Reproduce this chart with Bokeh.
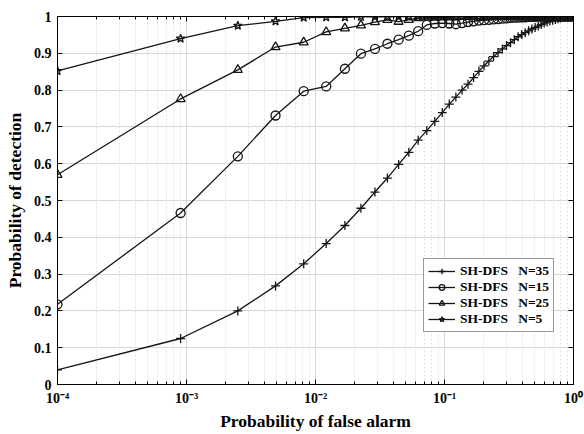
from bokeh.plotting import figure
from bokeh.models import (LogAxis, LinearAxis, Legend, LegendItem, CustomJSTickFormatter,
                          FixedTicker, LogTicker, Range1d)
from bokeh.embed import file_html
from bokeh.resources import INLINE

# Probability of false alarm (x)
pfa = [0.0001, 0.0009, 0.0025, 0.0049, 0.0081, 0.0121, 0.0169, 0.0225, 0.0289, 0.0361,
       0.0441, 0.0529, 0.0625, 0.0729, 0.0841, 0.0961, 0.1089, 0.1225, 0.1369, 0.1521,
       0.1681, 0.1849, 0.2025, 0.2209, 0.2401, 0.2601, 0.2809, 0.3025, 0.3249, 0.3481,
       0.3721, 0.3969, 0.4225, 0.4489, 0.4761, 0.5041, 0.5329, 0.5625, 0.5929, 0.6241,
       0.6561, 0.6889, 0.7225, 0.7569, 0.7921, 0.8281, 0.8649, 0.9025, 0.9409, 0.9801]

# Probability of detection (y) per series
pd_n35 = [0.040, 0.125, 0.200, 0.268, 0.328, 0.383, 0.432, 0.479, 0.523, 0.561,
          0.598, 0.631, 0.664, 0.690, 0.715, 0.739, 0.762, 0.781, 0.800, 0.816,
          0.834, 0.851, 0.866, 0.879, 0.891, 0.902, 0.912, 0.921, 0.929, 0.937,
          0.945, 0.951, 0.956, 0.961, 0.966, 0.970, 0.974, 0.978, 0.982, 0.985,
          0.988, 0.990, 0.992, 0.994, 0.996, 0.997, 0.998, 0.999, 1.000, 1.000]
pd_n15 = [0.218, 0.466, 0.620, 0.731, 0.797, 0.810, 0.858, 0.899, 0.912, 0.926,
          0.937, 0.948, 0.960, 0.977, 0.981, 0.982, 0.981, 0.979, 0.982, 0.985,
          0.987, 0.989, 0.990, 0.991, 0.992, 0.993, 0.994, 0.995, 0.996, 0.997,
          0.997, 0.998, 0.998, 0.999, 0.999, 0.999, 1.000, 1.000, 1.000, 1.000,
          1.000, 1.000, 1.000, 1.000, 1.000, 1.000, 1.000, 1.000, 1.000, 1.000]
pd_n25 = [0.570, 0.776, 0.855, 0.917, 0.930, 0.958, 0.968, 0.976, 0.985, 0.991,
          0.986, 0.991, 0.996, 0.997, 0.997, 0.998, 0.998, 0.999, 0.999, 0.999,
          1.000, 1.000, 1.000, 1.000, 1.000, 1.000, 1.000, 1.000, 1.000, 1.000,
          1.000, 1.000, 1.000, 1.000, 1.000, 1.000, 1.000, 1.000, 1.000, 1.000,
          1.000, 1.000, 1.000, 1.000, 1.000, 1.000, 1.000, 1.000, 1.000, 1.000]
pd_n5 = [0.852, 0.940, 0.975, 0.987, 0.997, 0.998, 0.998, 0.999, 0.999, 0.999,
         1.000, 1.000, 1.000, 1.000, 1.000, 1.000, 1.000, 1.000, 1.000, 1.000,
         1.000, 1.000, 1.000, 1.000, 1.000, 1.000, 1.000, 1.000, 1.000, 1.000,
         1.000, 1.000, 1.000, 1.000, 1.000, 1.000, 1.000, 1.000, 1.000, 1.000,
         1.000, 1.000, 1.000, 1.000, 1.000, 1.000, 1.000, 1.000, 1.000, 1.000]

series_labels = ["SH-DFS\u00a0\u00a0\u00a0N=35", "SH-DFS\u00a0\u00a0\u00a0N=15",
                 "SH-DFS\u00a0\u00a0\u00a0N=25", "SH-DFS\u00a0\u00a0\u00a0N=5"]
series_values = [pd_n35, pd_n15, pd_n25, pd_n5]
series_markers = ["cross", "circle", "triangle", "star"]
series_sizes = [9, 9, 9, 9]

y_ticks = [0, 0.1, 0.2, 0.3, 0.4, 0.5, 0.6, 0.7, 0.8, 0.9, 1.0]

FONT = "Liberation Serif"
LINE = "#151515"

p = figure(width=584, height=434, x_axis_type="log",
           x_range=Range1d(1e-4, 1), y_range=Range1d(0, 1),
           output_backend="svg", toolbar_location=None,
           min_border_left=57, min_border_right=11, min_border_top=16, min_border_bottom=50,
           background_fill_color="white", border_fill_color="white")

p.outline_line_color = "black"
p.outline_line_width = 1

xfmt = CustomJSTickFormatter(code="""
const e = Math.round(Math.log10(tick));
const m = {'-':'\u207b','0':'\u2070','1':'\u00b9','2':'\u00b2','3':'\u00b3','4':'\u2074',
           '5':'\u2075','6':'\u2076','7':'\u2077','8':'\u2078','9':'\u2079'};
return '10' + String(e).split('').map(c => m[c]).join('');
""")
yfmt = CustomJSTickFormatter(code="return String(Math.round(tick*10)/10);")

p.xaxis.ticker = LogTicker(num_minor_ticks=10)
p.xaxis.formatter = xfmt
p.yaxis.ticker = FixedTicker(ticks=y_ticks, minor_ticks=[])
p.yaxis.formatter = yfmt

for ax in [p.xaxis[0], p.yaxis[0]]:
    ax.axis_line_color = "black"
    ax.major_tick_in = 5
    ax.major_tick_out = 0
    ax.minor_tick_in = 3
    ax.minor_tick_out = 0
    ax.major_tick_line_color = "black"
    ax.minor_tick_line_color = "black"
    ax.major_label_text_font = FONT
    ax.major_label_text_font_style = "bold"
    ax.major_label_text_font_size = "14px"
    ax.major_label_text_color = "black"
    ax.axis_label_text_font = FONT
    ax.axis_label_text_font_style = "bold"
    ax.axis_label_text_font_size = "17.5px"
    ax.axis_label_text_color = "black"

p.xaxis.axis_label = "Probability of false alarm"
p.yaxis.axis_label = "Probability of detection"
p.xaxis.major_label_standoff = 6
p.xaxis.axis_label_standoff = 2
p.yaxis.major_label_standoff = 6
p.yaxis.axis_label_standoff = 6

# box axes (ticks only, no labels)
top = LogAxis(ticker=LogTicker(num_minor_ticks=10), formatter=xfmt,
              major_label_text_font_size="1px", major_label_text_alpha=0,
              major_label_standoff=0, major_tick_in=5, major_tick_out=0,
              minor_tick_in=3, minor_tick_out=0, axis_line_color="black")
right = LinearAxis(ticker=FixedTicker(ticks=y_ticks, minor_ticks=[]), formatter=yfmt,
                   major_label_text_font_size="1px", major_label_text_alpha=0,
                   major_label_standoff=0,
                   major_tick_in=5, major_tick_out=0, minor_tick_in=0, minor_tick_out=0,
                   axis_line_color="black")
p.add_layout(top, "above")
p.add_layout(right, "right")

p.xgrid.grid_line_color = "#d8d8d8"
p.xgrid.minor_grid_line_color = "#e2e2e2"
p.xgrid.minor_grid_line_dash = "2 2"
p.ygrid.grid_line_color = "#d8d8d8"
p.ygrid.minor_grid_line_color = None

items = []
for lab, vals, mk, sz in zip(series_labels, series_values, series_markers, series_sizes):
    lr = p.line(pfa, vals, line_color=LINE, line_width=1.3)
    sr = p.scatter(pfa, vals, marker=mk, size=sz, line_color=LINE, fill_color=None,
                   line_width=1.3)
    items.append(LegendItem(label=lab, renderers=[lr, sr]))

legend = Legend(items=items, location=(366, 52))
legend.border_line_color = "#333333"
legend.border_line_width = 1
legend.background_fill_color = "white"
legend.background_fill_alpha = 1
legend.label_text_font = FONT
legend.label_text_font_style = "bold"
legend.label_text_font_size = "13.5px"
legend.label_text_color = "black"
legend.glyph_width = 27
legend.glyph_height = 14
legend.label_height = 14
legend.spacing = 0
legend.padding = 4
legend.margin = 0
legend.label_standoff = 5
p.add_layout(legend)

open("out.html", "w").write(file_html(p, INLINE))
